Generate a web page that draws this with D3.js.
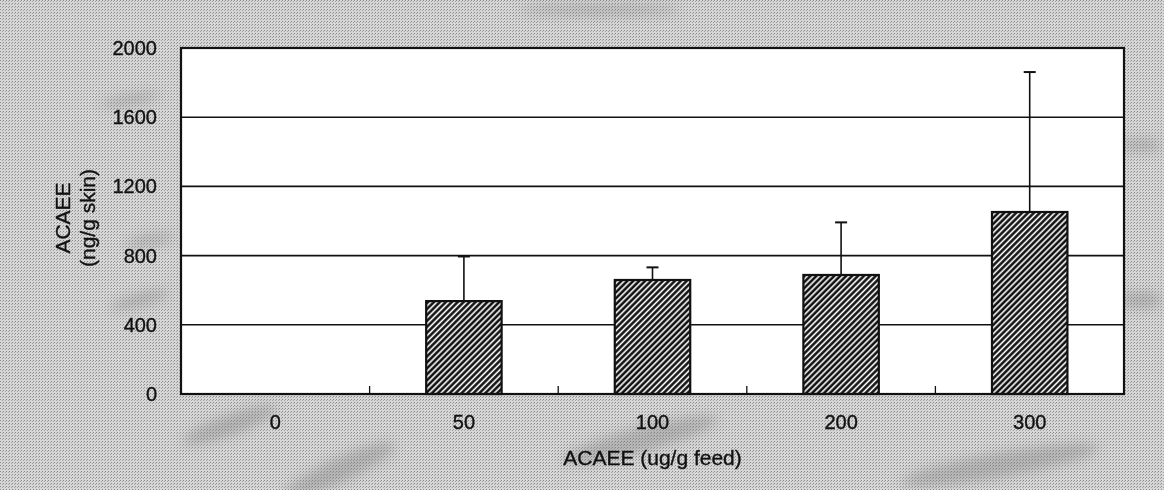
<!DOCTYPE html>
<html>
<head>
<meta charset="utf-8">
<script src="https://cdn.jsdelivr.net/npm/d3@7"></script>
<style>
  body { margin: 0; background: #c6c6c6; }
  svg { display: block; }
  text { font-family: "Liberation Sans", Arial, sans-serif; fill: #111; stroke: #111; stroke-width: 0.35px; }
</style>
</head>
<body>
<div id="chart"></div>
<script>
// dose groups and measured skin residue (mean, mean + SD)
var doses = ["0", "50", "100", "200", "300"];
var means = [0, 537, 659, 688, 1052];
var upper = [0, 795, 732, 992, 1861];
var yTicks = [0, 400, 800, 1200, 1600, 2000];

var w = 1164, h = 490;
var margin = {top: 48, right: 40, bottom: 96, left: 181};
var width = w - margin.left - margin.right;
var height = h - margin.top - margin.bottom;

var svg = d3.select("#chart").append("svg")
    .attr("width", w)
    .attr("height", h);

var defs = svg.append("defs");

// scanned halftone look for the page
var ht = defs.append("pattern")
    .attr("id", "halftone")
    .attr("width", 3).attr("height", 3)
    .attr("patternUnits", "userSpaceOnUse");
ht.append("rect").attr("width", 3).attr("height", 3).attr("fill", "#d6d6d6");
ht.append("rect").attr("width", 1).attr("height", 1).attr("fill", "#8a8a8a");
ht.append("rect").attr("x", 2).attr("y", 1).attr("width", 1).attr("height", 1).attr("fill", "#a4a4a4");

var blur = defs.append("filter").attr("id", "soft").attr("x", "-50%").attr("y", "-50%").attr("width", "200%").attr("height", "200%");
blur.append("feGaussianBlur").attr("stdDeviation", 6);

// diagonal hatch for the bars
var hatch = defs.append("pattern")
    .attr("id", "hatch")
    .attr("width", 4.2).attr("height", 4.2)
    .attr("patternUnits", "userSpaceOnUse")
    .attr("patternTransform", "rotate(45)");
hatch.append("rect").attr("width", 4.2).attr("height", 4.2).attr("fill", "#fff");
hatch.append("line")
    .attr("x1", 1.5).attr("y1", 0).attr("x2", 1.5).attr("y2", 4.2)
    .attr("stroke", "#111").attr("stroke-width", 2.6);

svg.append("rect").attr("width", w).attr("height", h).attr("fill", "url(#halftone)");

// a few darker smudges of the scan
var smudges = svg.append("g").attr("filter", "url(#soft)").attr("fill", "#808080").attr("opacity", 0.4);
[[230, 425, 50, 10, -20], [340, 470, 60, 12, -25], [640, 440, 80, 12, -15], [1000, 465, 100, 12, -10],
 [1140, 300, 22, 8, 0], [1140, 145, 22, 6, 0], [140, 300, 30, 6, -15], [150, 240, 25, 5, -10],
 [600, 10, 80, 5, 0], [130, 100, 30, 5, -10]]
    .forEach(function (s) {
        smudges.append("ellipse")
            .attr("transform", "translate(" + s[0] + "," + s[1] + ") rotate(" + s[4] + ")")
            .attr("rx", s[2]).attr("ry", s[3]);
    });

var g = svg.append("g")
    .attr("transform", "translate(" + margin.left + "," + margin.top + ")");

var x = d3.scaleBand()
    .domain(doses)
    .range([0, width])
    .paddingInner(0)
    .paddingOuter(0);

var y = d3.scaleLinear()
    .domain([0, 2000])
    .range([height, 0]);

g.append("rect")
    .attr("width", width)
    .attr("height", height)
    .attr("fill", "#fff");

// gridlines
g.selectAll(".grid")
    .data(yTicks.filter(function (d) { return d > 0 && d < 2000; }))
    .enter().append("line")
    .attr("class", "grid")
    .attr("x1", 0).attr("x2", width)
    .attr("y1", function (d) { return y(d); })
    .attr("y2", function (d) { return y(d); })
    .attr("stroke", "#111")
    .attr("stroke-width", 1.6);

// category boundary ticks (pointing up)
g.selectAll(".ctick")
    .data(doses.slice(1))
    .enter().append("line")
    .attr("class", "ctick")
    .attr("x1", function (d) { return x(d); })
    .attr("x2", function (d) { return x(d); })
    .attr("y1", height).attr("y2", height - 8)
    .attr("stroke", "#111")
    .attr("stroke-width", 1.3);

var barW = x.bandwidth() * 0.4;

// error bars (upper only)
var err = g.selectAll(".err")
    .data(doses.map(function (d, i) { return {dose: d, mean: means[i], hi: upper[i]}; })
        .filter(function (d) { return d.hi > d.mean; }))
    .enter().append("g")
    .attr("class", "err")
    .attr("transform", function (d) { return "translate(" + (x(d.dose) + x.bandwidth() / 2) + ",0)"; });

err.append("line")
    .attr("x1", 0).attr("x2", 0)
    .attr("y1", function (d) { return y(d.mean); })
    .attr("y2", function (d) { return y(d.hi); })
    .attr("stroke", "#111").attr("stroke-width", 1.6);

err.append("line")
    .attr("x1", -6).attr("x2", 6)
    .attr("y1", function (d) { return y(d.hi); })
    .attr("y2", function (d) { return y(d.hi); })
    .attr("stroke", "#111").attr("stroke-width", 2);

// bars
g.selectAll(".bar")
    .data(doses.map(function (d, i) { return {dose: d, mean: means[i]}; })
        .filter(function (d) { return d.mean > 0; }))
    .enter().append("rect")
    .attr("class", "bar")
    .attr("x", function (d) { return x(d.dose) + (x.bandwidth() - barW) / 2; })
    .attr("y", function (d) { return y(d.mean); })
    .attr("width", barW)
    .attr("height", function (d) { return height - y(d.mean); })
    .attr("fill", "url(#hatch)")
    .attr("stroke", "#111")
    .attr("stroke-width", 2.2);

// frame
g.append("rect")
    .attr("width", width)
    .attr("height", height)
    .attr("fill", "none")
    .attr("stroke", "#111")
    .attr("stroke-width", 2.2);

// y axis labels
var yAxis = d3.axisLeft(y).tickValues(yTicks).tickFormat(d3.format("d")).tickSize(0).tickPadding(24);
var ya = g.append("g").call(yAxis);
ya.select(".domain").remove();
ya.selectAll("text")
    .style("font-size", "20px")
    .style("font-family", "'Liberation Sans', Arial, sans-serif")
    .attr("fill", "#111");

// x axis labels
var xAxis = d3.axisBottom(x).tickSize(0).tickPadding(21);
var xa = g.append("g").attr("transform", "translate(0," + height + ")").call(xAxis);
xa.select(".domain").remove();
xa.selectAll("text")
    .style("font-size", "20px")
    .style("font-family", "'Liberation Sans', Arial, sans-serif")
    .attr("fill", "#111");

// titles
svg.append("text")
    .attr("x", margin.left + width / 2)
    .attr("y", 465)
    .attr("text-anchor", "middle")
    .style("font-size", "21px")
    .text("ACAEE (ug/g feed)");

var yt = svg.append("text")
    .attr("transform", "translate(70,218) rotate(-90)")
    .attr("text-anchor", "middle")
    .style("font-size", "21px");
yt.append("tspan").attr("x", 0).attr("dy", 0).text("ACAEE");
yt.append("tspan").attr("x", 0).attr("dy", 25).text("(ng/g skin)");
</script>
</body>
</html>
